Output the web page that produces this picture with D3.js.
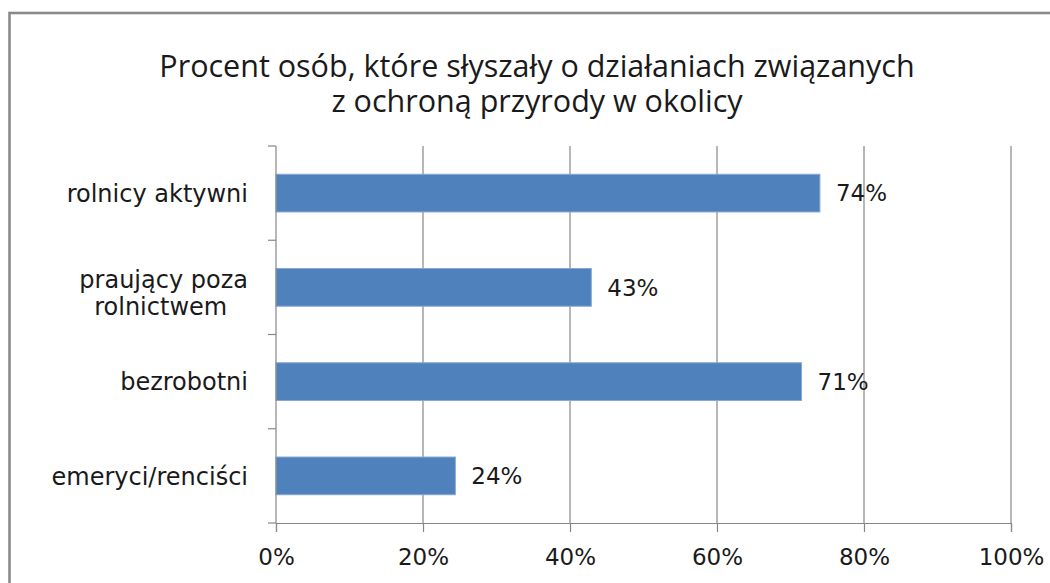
<!DOCTYPE html>
<html>
<head>
<meta charset="utf-8">
<script src="https://cdn.jsdelivr.net/npm/d3@7"></script>
<style>
  html, body { margin: 0; padding: 0; background: #fff; }
  svg { display: block; }
</style>
</head>
<body>
<svg id="chart" width="1050" height="583"></svg>
<script>
const titleLines = ["Procent osób, które słyszały o działaniach związanych", "z ochroną przyrody w okolicy"];
const categories = ["rolnicy aktywni", "praujący poza\nrolnictwem", "bezrobotni", "emeryci/renciści"];
const values = [74, 42.9, 71.5, 24.4];
const valueLabels = ["74%", "43%", "71%", "24%"];
const xTicks = [0, 20, 40, 60, 80, 100];

const svg = d3.select("#chart");
const W = 1050, H = 583;
const margin = { left: 276, right: 39, top: 146, bottom: 60 };
const plotW = W - margin.left - margin.right;
const plotH = H - margin.top - margin.bottom;
const gridColor = "#878787";
const textColor = "#1a1a1a";
const labelFont = "'DejaVu Sans', Verdana, sans-serif";

svg.append("rect").attr("width", W).attr("height", H).attr("fill", "#fff");
// chart frame (extends beyond the visible area right & bottom)
svg.append("rect")
  .attr("x", 9.5).attr("y", 13).attr("width", W + 20).attr("height", H + 20)
  .attr("fill", "none").attr("stroke", "#8a8a8a").attr("stroke-width", 2.6);

// title
titleLines.forEach((t, i) => {
  svg.append("text")
    .attr("text-anchor", "middle")
    .attr("font-family", "'Open Sans', Lato, sans-serif")
    .attr("font-size", 30.5)
    .attr("fill", textColor)
    .attr("x", 537).attr("y", 77 + i * 35).text(t);
});

const g = svg.append("g").attr("transform", `translate(${margin.left},${margin.top})`);

const x = d3.scaleLinear().domain([0, 100]).range([0, plotW]);
const y = d3.scaleBand().domain(categories).range([0, plotH]).paddingInner(0.6).paddingOuter(0.3);

// gridlines
g.append("g").selectAll("line").data(xTicks.filter(d => d > 0)).join("line")
  .attr("x1", d => x(d)).attr("x2", d => x(d))
  .attr("y1", 0).attr("y2", plotH)
  .attr("stroke", gridColor).attr("stroke-width", 1.2);

// bars
g.append("g").selectAll("rect").data(values).join("rect")
  .attr("x", 0)
  .attr("y", (d, i) => y(categories[i]))
  .attr("width", d => x(d))
  .attr("height", y.bandwidth())
  .attr("fill", "#4f81bd")
  .attr("stroke", "#86a7d4").attr("stroke-width", 1);

// data labels
g.append("g").selectAll("text").data(values).join("text")
  .attr("x", d => x(d) + 16)
  .attr("y", (d, i) => y(categories[i]) + y.bandwidth() / 2)
  .attr("dy", "0.36em")
  .attr("font-family", labelFont).attr("font-size", 23)
  .attr("fill", textColor)
  .text((d, i) => valueLabels[i]);

// x axis
const xAxis = g.append("g").attr("transform", `translate(0,${plotH})`)
  .call(d3.axisBottom(x).tickValues(xTicks).tickSize(9).tickPadding(17).tickFormat(d => d + "%"));
xAxis.select(".domain").attr("stroke", gridColor).attr("stroke-width", 1.2);
xAxis.selectAll(".tick line").attr("stroke", gridColor).attr("stroke-width", 1.2);
xAxis.selectAll(".tick text")
  .attr("font-family", labelFont).attr("font-size", 23).attr("fill", textColor);

// y axis: ticks at band boundaries
const step = y.step();
const boundaries = d3.range(categories.length + 1).map(i => y(categories[0]) - y.paddingOuter() * step + i * step);
g.append("line").attr("x1", 0).attr("x2", 0).attr("y1", 0).attr("y2", plotH)
  .attr("stroke", gridColor).attr("stroke-width", 1.2);
g.append("g").selectAll("line").data(boundaries).join("line")
  .attr("x1", -8).attr("x2", 0)
  .attr("y1", d => d).attr("y2", d => d)
  .attr("stroke", gridColor).attr("stroke-width", 1.2);

// category labels
const catFont = 24;
const catG = g.append("g");
categories.forEach(c => {
  const lines = c.split("\n");
  const cy = y(c) + y.bandwidth() / 2;
  const lh = 27;
  const t = catG.append("text")
    .attr("font-family", labelFont).attr("font-size", catFont)
    .attr("fill", textColor);
  if (lines.length === 1) {
    t.attr("x", -28).attr("y", cy).attr("dy", "0.36em").attr("text-anchor", "end").text(lines[0]);
  } else {
    const first = t.attr("x", -28).attr("y", cy - lh / 2 + 5).attr("dy", "0.36em")
      .attr("text-anchor", "end").text(lines[0]);
    const w1 = first.node().getComputedTextLength();
    catG.append("text")
      .attr("font-family", labelFont).attr("font-size", catFont)
      .attr("fill", textColor)
      .attr("x", -28 - w1 / 2 - 3).attr("y", cy + lh / 2 + 5).attr("dy", "0.36em")
      .attr("text-anchor", "middle").text(lines[1]);
  }
});
</script>
</body>
</html>
